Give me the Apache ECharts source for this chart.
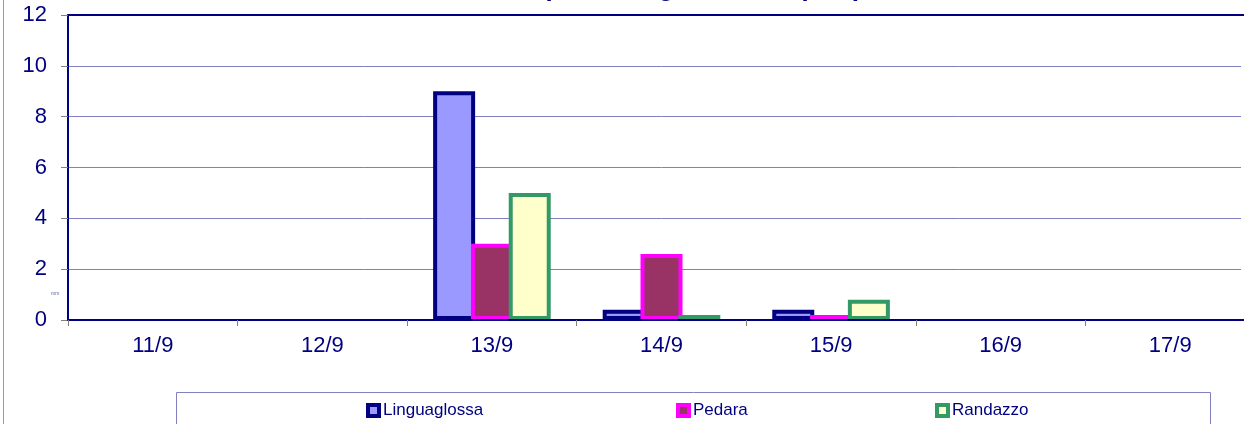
<!DOCTYPE html>
<html>
<head>
<meta charset="utf-8">
<title>Precipitazioni giornaliere</title>
<script src="https://cdn.jsdelivr.net/npm/echarts@6/dist/echarts.min.js"></script>
<style>
  html, body { margin: 0; padding: 0; background: #fff; overflow: hidden; }
  /* l'area del grafico prosegue oltre il bordo destro, come nell'originale */
  #chart { width: 1264px; height: 424px; }
</style>
</head>
<body>
<div id="chart"></div>
<script>
// dati
const categories = ['11/9', '12/9', '13/9', '14/9', '15/9', '16/9', '17/9']
const linguaglossa = [0, 0, 9, 0.4, 0.4, 0, 0]
const pedara = [0, 0, 3, 2.6, 0.2, 0, 0]
const randazzo = [0, 0, 5, 0.2, 0.8, 0, 0]
const yMin = 0
const yMax = 12
const yStep = 2

const NAVY = '#000080'
const GRID = '#8080c0'
const FONT = 'Arial, "Liberation Sans", sans-serif'

// i giorni a zero non hanno barra
const noZero = arr => arr.map(v => (v === 0 ? '-' : v))

const chart = echarts.init(document.getElementById('chart'), null, { renderer: 'canvas' })

function barSeries(name, data, fill, border) {
  return {
    name: name,
    type: 'bar',
    data: noZero(data),
    barWidth: 42,
    barGap: '-10%',
    itemStyle: {
      color: fill,
      borderColor: border,
      borderWidth: 4,
      borderRadius: 0
    },
    emphasis: { disabled: true },
    animation: false
  }
}

function legendAt(left, name, fill, border) {
  return {
    left: left,
    top: 402,
    padding: 0,
    itemWidth: 11,
    itemHeight: 11,
    itemGap: 0,
    icon: 'rect',
    data: [name],
    selectedMode: false,
    itemStyle: { color: fill, borderColor: border, borderWidth: 4 },
    textStyle: { color: NAVY, fontSize: 17, fontFamily: FONT, padding: [0, 0, 0, -1] }
  }
}

chart.setOption({
  backgroundColor: '#fff',
  animation: false,
  title: {
    text: 'Precipitazioni giornaliere (mm)',
    left: 482,
    top: -24,
    padding: 0,
    textStyle: { color: NAVY, fontSize: 26, fontWeight: 'bold', fontFamily: FONT }
  },
  legend: [
    legendAt(366, 'Linguaglossa', '#9999ff', NAVY),
    legendAt(676, 'Pedara', '#993366', '#ff00ff'),
    legendAt(935, 'Randazzo', '#ffffcc', '#339966')
  ],
  grid: {
    left: 68,
    top: 15,
    right: 9,
    bottom: 104,
    outerBoundsMode: 'none'
  },
  xAxis: [
    {
      type: 'category',
      data: categories,
      z: 3,
      axisLine: { lineStyle: { color: NAVY, width: 2 } },
      axisTick: { show: true, length: 6, lineStyle: { color: '#808080' } },
      axisLabel: { color: NAVY, fontSize: 22, fontFamily: FONT, margin: 15, interval: 0 },
      splitLine: { show: false }
    },
    {
      // bordo superiore dell'area del grafico
      type: 'category',
      data: categories,
      position: 'top',
      axisLine: { show: true, lineStyle: { color: NAVY, width: 2 } },
      axisTick: { show: false },
      axisLabel: { show: false },
      splitLine: { show: false }
    }
  ],
  yAxis: {
    type: 'value',
    min: yMin,
    max: yMax,
    interval: yStep,
    axisLine: { show: true, lineStyle: { color: NAVY, width: 2 } },
    axisTick: { show: true, length: 7, lineStyle: { color: '#808080' } },
    axisLabel: { color: NAVY, fontSize: 22, fontFamily: FONT, margin: 21 },
    splitLine: { show: true, lineStyle: { color: GRID, width: 1 } }
  },
  series: [
    barSeries('Linguaglossa', linguaglossa, '#9999ff', NAVY),
    barSeries('Pedara', pedara, '#993366', '#ff00ff'),
    barSeries('Randazzo', randazzo, '#ffffcc', '#339966')
  ],
  graphic: [
    {
      // bordo esterno del grafico (solo il lato sinistro è visibile)
      type: 'rect',
      shape: { x: 3.5, y: -20, width: 1400, height: 600 },
      style: { fill: 'none', stroke: '#9898cc', lineWidth: 1 },
      z: -1
    },
    {
      // riquadro della legenda
      type: 'rect',
      shape: { x: 176.5, y: 392.5, width: 1034, height: 60 },
      style: { fill: 'none', stroke: GRID, lineWidth: 1 },
      z: -1
    },
    {
      // unità dell'asse
      type: 'text',
      x: 51,
      y: 291,
      style: { text: 'mm', fontSize: 5, fill: '#5a6aa0', fontFamily: FONT }
    },
    {
      // copre il bordo verticale che compare sul margine destro della finestra
      type: 'rect',
      shape: { x: 1241, y: 17, width: 6, height: 301 },
      style: { fill: '#fff' },
      z: 100
    }
  ]
})
</script>
</body>
</html>
